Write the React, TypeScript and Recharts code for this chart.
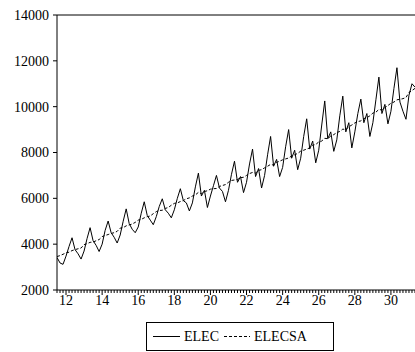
import { LineChart, Line, XAxis, YAxis, ReferenceLine } from "recharts";

// time axis: first observation and spacing (six observations per year)
const START = 11.5;
const STEP = 1 / 6;

const ELEC = [
  3420, 3180, 3120, 3480, 3900, 4280, 3760, 3580,
  3350, 3700, 4250, 4720, 4150, 3950,
  3680, 4000, 4600, 5010, 4500, 4300,
  4050, 4400, 5000, 5540, 4900, 4650,
  4500, 4750, 5350, 5850, 5250, 5050,
  4850, 5200, 5650, 5980, 5500, 5350,
  5150, 5500, 6000, 6420, 5900, 5800,
  5450, 5800, 6500, 7100, 6100, 6350,
  5600, 6100, 6550, 7000, 6450, 6300,
  5850, 6350, 7050, 7620, 6700, 6950,
  6250, 6700, 7500, 8150, 6950, 7300,
  6450, 7000, 7900, 8700, 7400, 7700,
  6950, 7350, 8250, 9000, 7750, 8100,
  7250, 7750, 8700, 9470, 8150, 8500,
  7550, 8100, 9200, 10250, 8600, 8900,
  8050, 8550, 9600, 10460, 8900, 9300,
  8200, 8900, 9700, 10330, 9300, 9700,
  8700, 9300, 10300, 11290, 9700, 10100,
  9250, 9800, 10800, 11700, 10200, 9800,
  9450, 10500, 11000, 10850,
];

const ELECSA = [
  3460, 3500, 3560, 3620, 3650, 3720, 3760, 3800,
  3830, 3980, 4020, 4080, 4090, 4150,
  4200, 4330, 4380, 4420, 4470, 4500,
  4560, 4700, 4720, 4800, 4840, 4880,
  4950, 5050, 5080, 5150, 5200, 5230,
  5330, 5420, 5470, 5480, 5560, 5600,
  5700, 5780, 5800, 5860, 5900, 5980,
  6020, 6100, 6150, 6260, 6200, 6300,
  6330, 6400, 6420, 6430, 6520, 6560,
  6600, 6700, 6780, 6800, 6820, 6900,
  6920, 7000, 7080, 7130, 7100, 7220,
  7250, 7330, 7400, 7480, 7450, 7570,
  7620, 7680, 7720, 7760, 7850, 7900,
  7960, 8060, 8100, 8150, 8200, 8320,
  8350, 8460, 8500, 8620, 8600, 8720,
  8780, 8870, 8920, 9020, 9000, 9120,
  9200, 9290, 9350, 9380, 9480, 9520,
  9600, 9720, 9760, 9880, 9850, 9960,
  10050, 10150, 10200, 10300, 10320, 10350,
  10400, 10620, 10700, 10800,
];

const YEAR_LABELS = [12, 14, 16, 18, 20, 22, 24, 26, 28, 30];
const Y_TICKS = [2000, 4000, 6000, 8000, 10000, 12000, 14000];

const data = ELEC.map((v, i) => ({ x: START + i * STEP, elec: v, elecsa: ELECSA[i] }));
const END = START + (ELEC.length - 1) * STEP;
const minorTicks = data.map((d) => d.x);

const FONT = "'Liberation Serif', 'Times New Roman', serif";

const XTick = (props: any) => {
  const { x, y, payload } = props;
  const v = payload.value;
  const major = YEAR_LABELS.find((l) => Math.abs(l - v) < 1e-6);
  return (
    <g>
      <line x1={x} x2={x} y1={y} y2={y + (major !== undefined ? 5 : 3)} stroke="#000" />
      {major !== undefined && (
        <text x={x} y={y + 15} textAnchor="middle" fontSize={14} fontFamily={FONT} fill="#000">
          {major}
        </text>
      )}
    </g>
  );
};

const ticks = [...minorTicks];
YEAR_LABELS.forEach((l) => {
  if (!ticks.some((t) => Math.abs(t - l) < 1e-6)) ticks.push(l);
});
ticks.sort((a, b) => a - b);

const Legend = () => (
  <svg width={190} height={30} style={{ position: "absolute", left: 145, top: 322 }}>
    <rect x={1.5} y={0.5} width={187} height={28} fill="#fff" stroke="#000" />
    <line x1={8} x2={35} y1={14.5} y2={14.5} stroke="#000" />
    <text x={39} y={19} fontSize={14} fontFamily={FONT} fill="#000">ELEC</text>
    <line x1={79} x2={105} y1={14.5} y2={14.5} stroke="#000" strokeDasharray="3 2" />
    <text x={109} y={19} fontSize={14} fontFamily={FONT} fill="#000">ELECSA</text>
  </svg>
);

export default function App() {
  return (
    <div style={{ position: "absolute", left: 0, top: 0, width: 415, height: 352, background: "#fff" }}>
      <LineChart width={415} height={352} data={data} margin={{ top: 15, right: 0, left: 0, bottom: 32 }}>
        <XAxis
          dataKey="x"
          type="number"
          domain={[START, END]}
          ticks={ticks}
          interval={0}
          tick={<XTick />}
          tickSize={0}
          tickMargin={0}
          tickLine={false}
          height={30}
          axisLine={{ stroke: "#000" }}
          allowDataOverflow
        />
        <YAxis
          type="number"
          domain={[2000, 14000]}
          ticks={Y_TICKS}
          interval={0}
          width={57}
          tickSize={4}
          tickMargin={4}
          axisLine={{ stroke: "#000" }}
          tickLine={{ stroke: "#000" }}
          tick={{ fill: "#000", fontSize: 14, fontFamily: FONT }}
        />
        <ReferenceLine y={14000} stroke="#000" />
        <Line dataKey="elec" stroke="#000" strokeWidth={1} dot={false} isAnimationActive={false} />
        <Line dataKey="elecsa" stroke="#000" strokeWidth={1} strokeDasharray="3 2" dot={false} isAnimationActive={false} />
      </LineChart>
      <Legend />
    </div>
  );
}
